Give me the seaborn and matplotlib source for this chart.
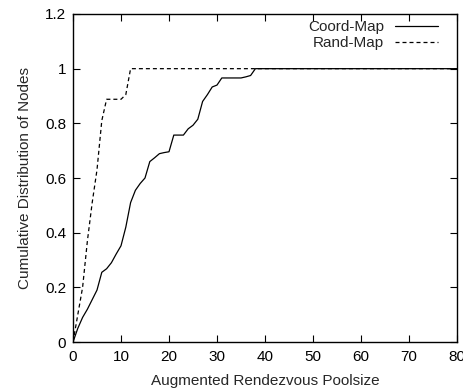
import numpy as np
import pandas as pd
import matplotlib
matplotlib.use("Agg")
import matplotlib.pyplot as plt
import seaborn as sns

# Data
coord_x = [0, 1, 2, 3, 4, 5, 6, 7, 8, 9, 10, 11, 12, 13, 14, 15, 16, 17, 18, 19,
           20, 21, 22, 23, 24, 25, 26, 27, 28, 29, 30, 31, 32, 33, 34, 35, 36, 37, 38, 80]
coord_y = [0.0, 0.05, 0.09, 0.12, 0.155, 0.19, 0.255, 0.268, 0.29, 0.322,
           0.352, 0.42, 0.51, 0.555, 0.58, 0.60, 0.66, 0.674, 0.689, 0.693,
           0.696, 0.757, 0.757, 0.757, 0.78, 0.793, 0.815, 0.88, 0.905, 0.933,
           0.94, 0.966, 0.966, 0.966, 0.966, 0.966, 0.97, 0.975, 1.0, 1.0]
rand_x = [0, 1, 2, 3, 4, 5, 6, 7, 8, 9, 10, 11, 12, 80]
rand_y = [0.0, 0.1, 0.2, 0.37, 0.51, 0.63, 0.81, 0.888, 0.888, 0.888, 0.888, 0.905, 1.0, 1.0]

x_ticks = [0, 10, 20, 30, 40, 50, 60, 70, 80]
y_ticks = [0, 0.2, 0.4, 0.6, 0.8, 1.0, 1.2]
y_tick_labels = ["0", "0.2", "0.4", "0.6", "0.8", "1", "1.2"]

sns.set_style("ticks")
plt.rcParams['font.family'] = ['Liberation Sans', 'DejaVu Sans']
FS = 11

fig = plt.figure(figsize=(4.64, 3.89), dpi=100)
ax = fig.add_axes([73/464, 1 - 342/389, (457-73)/464, (342-14)/389])

df_c = pd.DataFrame({"x": coord_x, "y": coord_y})
df_r = pd.DataFrame({"x": rand_x, "y": rand_y})
sns.lineplot(data=df_c, x="x", y="y", ax=ax, color="black", linewidth=0.9,
             label="Coord-Map", estimator=None, sort=False)
sns.lineplot(data=df_r, x="x", y="y", ax=ax, color="black", linewidth=0.9,
             linestyle=(0, (3.2, 2.4)), label="Rand-Map", estimator=None, sort=False)

ax.set_xlim(0, 80)
ax.set_ylim(0, 1.2)
ax.set_xticks(x_ticks)
ax.set_yticks(y_ticks)
ax.set_yticklabels(y_tick_labels)
ax.set_xlabel("Augmented Rendezvous Poolsize", fontsize=FS, labelpad=7)
ax.set_ylabel("Cumulative Distribution of Nodes", fontsize=FS, labelpad=9)
ax.tick_params(direction="in", length=5, width=0.8, top=True, right=True,
               labelsize=FS, pad=6, colors="black")
ax.tick_params(axis="y", pad=5)
for s in ax.spines.values():
    s.set_visible(True)
    s.set_linewidth(1.0)
    s.set_color("black")

leg = ax.legend(loc="upper right", bbox_to_anchor=((438-73)/384, (342-20)/328),
                frameon=False, markerfirst=False,
                handlelength=2.8, fontsize=FS, borderaxespad=0.0, borderpad=0.0,
                labelspacing=0.15, handletextpad=0.72)
for t in leg.get_texts():
    t.set_ha("right")
leg._legend_box.align = "right"

fig.savefig("out.png", dpi=100)
